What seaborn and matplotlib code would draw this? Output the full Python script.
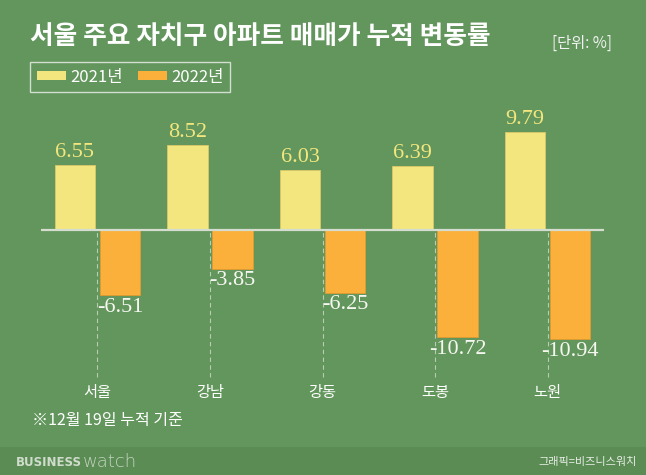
import matplotlib
matplotlib.use("Agg")
import matplotlib.pyplot as plt
from matplotlib.patches import Rectangle, Patch
import seaborn as sns
import pandas as pd

districts = ["서울", "강남", "강동", "도봉", "노원"]
years = ["2021년", "2022년"]
vals_2021 = [6.55, 8.52, 6.03, 6.39, 9.79]
vals_2022 = [-6.51, -3.85, -6.25, -10.72, -10.94]

title = "서울 주요 자치구 아파트 매매가 누적 변동률"
unit = "[단위: %]"
note = "※12월 19일 누적 기준"
credit = "그래픽=비즈니스워치"

BG = "#62965c"
BAND = "#5a8c54"
YEL = "#f3e67f"
ORG = "#fbb03b"
WHITE = "#ffffff"

sns.set_theme(style="white")
plt.rcParams["font.family"] = ["Noto Sans CJK KR", "DejaVu Sans"]

df = pd.DataFrame({
    "구": districts * 2,
    "연도": [years[0]] * len(districts) + [years[1]] * len(districts),
    "변동률": vals_2021 + vals_2022,
})

fig = plt.figure(figsize=(6.46, 4.75), dpi=100, facecolor=BG)
fig.patches.append(Rectangle((0, 0), 1, 28 / 475, transform=fig.transFigure,
                             facecolor=BAND, edgecolor="none", zorder=0))

ax = fig.add_axes([41 / 646, 75 / 475, 563 / 646, 280 / 475])
ax.set_facecolor("none")

sns.barplot(data=df, x="구", y="변동률", hue="연도", order=districts,
            hue_order=years, palette=[YEL, ORG], width=0.8, gap=0.1,
            edgecolor="#d9c86a", linewidth=0.6, saturation=1,
            legend=False, ax=ax, zorder=3)
for patch in ax.containers[1]:
    patch.set_edgecolor("#e29a30")

ax.set_xlim(-0.5, 4.5)
ax.set_ylim(-17, 11)
ax.axhline(0, color="#d4ddd0", lw=1.6, zorder=4)
ax.vlines(range(len(districts)), -14.7, 0, colors="#b8cdb3",
          linestyles=(0, (4, 3)), lw=0.8, zorder=2)
for i, d in enumerate(districts):
    ax.text(i, -16.2, d, ha="center", va="center", color=WHITE, fontsize=11)

for cont, vals, col in zip(ax.containers, [vals_2021, vals_2022], [YEL, "#f7f7f2"]):
    ax.bar_label(cont, labels=[f"{v:.2f}" for v in vals], padding=2,
                 color=col, fontsize=16, family="Liberation Serif")

for s in ax.spines.values():
    s.set_visible(False)
ax.set_xticks([])
ax.set_yticks([])
ax.set_xlabel("")
ax.set_ylabel("")

fig.text(30 / 646, 1 - 37 / 475, title, ha="left", va="center", color=WHITE,
         fontsize=18.5, fontweight="bold")
fig.text(552 / 646, 1 - 43 / 475, unit, ha="left", va="center", color="#f2f2f2",
         fontsize=11)

handles = [Patch(facecolor=YEL, edgecolor="none"), Patch(facecolor=ORG, edgecolor="none")]
leg = fig.legend(handles, years, loc="upper left", bbox_to_anchor=(30 / 646, 1 - 62 / 475),
                 ncol=2, frameon=True, fancybox=False, fontsize=12,
                 handlelength=1.75, handleheight=0.42, handletextpad=0.25,
                 columnspacing=0.9, borderpad=0.4, borderaxespad=0)
leg.get_frame().set_facecolor("none")
leg.get_frame().set_edgecolor("#f0f0f0")
leg.get_frame().set_linewidth(1)
for t in leg.get_texts():
    t.set_color(WHITE)

fig.text(32 / 646, 1 - 420 / 475, note, ha="left", va="center", color=WHITE,
         fontsize=11.5)

fig.text(82 / 646, 1 - 463 / 475, "BUSINESS", ha="right", va="center",
         color="#d0dccc", fontsize=8.5, fontweight="heavy", family="DejaVu Sans")
fig.text(83 / 646, 1 - 462 / 475, "watch", ha="left", va="center",
         color="#c4d4c0", fontsize=13, fontweight="light", family="DejaVu Sans")
fig.text(637 / 646, 1 - 462 / 475, credit, ha="right", va="center",
         color="#e8eee6", fontsize=8)

fig.savefig("out.png", dpi=100, facecolor=BG)
